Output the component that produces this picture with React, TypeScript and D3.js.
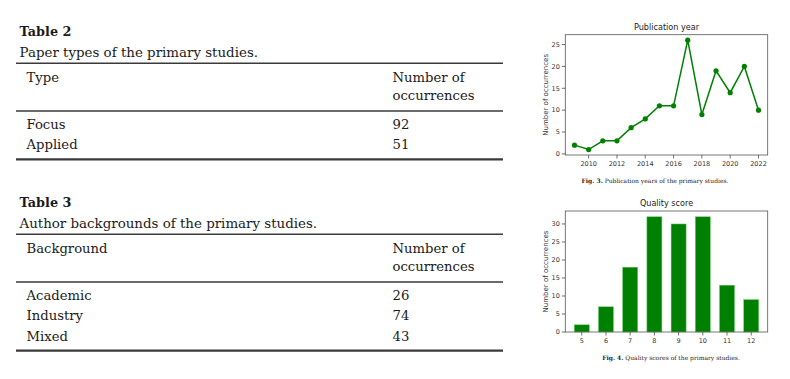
import React from "react";
import * as d3 from "d3";

// ---- Data ----
const years = [2009, 2010, 2011, 2012, 2013, 2014, 2015, 2016, 2017, 2018, 2019, 2020, 2021, 2022];
const yearCounts = [2, 1, 3, 3, 6, 8, 11, 11, 26, 9, 19, 14, 20, 10];
const yearTicks = [2010, 2012, 2014, 2016, 2018, 2020, 2022];
const yearYTicks = [0, 5, 10, 15, 20, 25];

const scores = [5, 6, 7, 8, 9, 10, 11, 12];
const scoreCounts = [2, 7, 18, 32, 30, 32, 13, 9];
const scoreYTicks = [0, 5, 10, 15, 20, 25, 30];

const paperTypes = ["Focus", "Applied"];
const paperTypeCounts = [92, 51];
const backgrounds = ["Academic", "Industry", "Mixed"];
const backgroundCounts = [26, 74, 43];

const GREEN = "#008000";
const SERIF = "'DejaVu Serif', serif";
const SANS = "'DejaVu Sans', sans-serif";

function Table({ top, title, caption, head, rows, counts }: any) {
  const x0 = 16, x1 = 503;
  const rule = "#3a3a3a";
  return (
    <g fontFamily={SERIF} fill="#1a1a1a">
      <text x={19.5} y={top} fontWeight="bold" fontSize={12.8}>{title}</text>
      <text x={19.5} y={top + 20.5} fontSize={13.4}>{caption}</text>
      <line x1={x0} x2={x1} y1={top + 27.3} y2={top + 27.3} stroke={rule} strokeWidth={1.5} />
      <text x={26.5} y={top + 45.6} fontSize={13.2}>{head}</text>
      <text x={392.5} y={top + 45.6} fontSize={13.2}>Number of</text>
      <text x={392.5} y={top + 64.2} fontSize={13.2}>occurrences</text>
      <line x1={x0} x2={x1} y1={top + 75} y2={top + 75} stroke={rule} strokeWidth={1.3} />
      {rows.map((r: string, i: number) => (
        <g key={r}>
          <text x={26.5} y={top + 93.2 + i * 20.2} fontSize={13.2}>{r}</text>
          <text x={392.5} y={top + 93.2 + i * 20.2} fontSize={13.2}>{counts[i]}</text>
        </g>
      ))}
      <line x1={x0} x2={x1} y1={top + 83 + rows.length * 20.2} y2={top + 83 + rows.length * 20.2} stroke={rule} strokeWidth={2.4} />
    </g>
  );
}

function LineChart() {
  const L = 565.3, R = 767.7, T = 34.7, B = 155;
  const x = d3.scaleLinear().domain([2008.35, 2022.65]).range([L, R]);
  const y = d3.scaleLinear().domain([-0.25, 27.25]).range([B, T]);
  const pts = years.map((yr, i) => [x(yr), y(yearCounts[i])] as [number, number]);
  const line = d3.line()(pts) as string;
  return (
    <g fontFamily={SANS}>
      <text x={(L + R) / 2} y={T - 5} textAnchor="middle" fontSize={8.1} fill="#222">Publication year</text>
      {yearYTicks.map((t) => (
        <g key={t}>
          <line x1={L - 3.5} x2={L} y1={y(t)} y2={y(t)} stroke="#333" strokeWidth={0.7} />
          <text x={L - 5.5} y={y(t) + 2.3} textAnchor="end" fontSize={6.5} fill="#333">{t}</text>
        </g>
      ))}
      {yearTicks.map((t) => (
        <g key={t}>
          <line x1={x(t)} x2={x(t)} y1={B} y2={B + 3.5} stroke="#333" strokeWidth={0.7} />
          <text x={x(t)} y={B + 10.8} textAnchor="middle" fontSize={6.5} fill="#333">{t}</text>
        </g>
      ))}
      <text transform={`translate(${547.5},${(T + B) / 2}) rotate(-90)`} textAnchor="middle" fontSize={7} fill="#333">Number of occurrences</text>
      <path d={line} fill="none" stroke={GREEN} strokeWidth={1.5} />
      {pts.map((p, i) => (
        <circle key={i} cx={p[0]} cy={p[1]} r={2.6} fill={GREEN} />
      ))}
      <rect x={L} y={T} width={R - L} height={B - T} fill="none" stroke="#555" strokeWidth={0.8} />
      <text x={655} y={182.5} textAnchor="middle" fontFamily={SERIF} fontSize={6} fill="#222">
        <tspan fontWeight="bold">Fig. 3.</tspan>
        <tspan>{"  Publication years of the primary studies."}</tspan>
      </text>
    </g>
  );
}

function BarChart() {
  const L = 565.3, R = 767.7, T = 211, B = 332;
  const x = d3.scaleLinear().domain([4.32, 12.68]).range([L, R]);
  const y = d3.scaleLinear().domain([0, 33.6]).range([B, T]);
  const bw = 0.62;
  return (
    <g fontFamily={SANS}>
      <text x={(L + R) / 2} y={T - 5} textAnchor="middle" fontSize={8.1} fill="#222">Quality score</text>
      {scores.map((s, i) => (
        <rect key={s} x={x(s - bw / 2)} y={y(scoreCounts[i])} width={x(s + bw / 2) - x(s - bw / 2)} height={B - y(scoreCounts[i])} fill={GREEN} stroke="#6fcf6f" strokeWidth={0.5} />
      ))}
      {scoreYTicks.map((t) => (
        <g key={t}>
          <line x1={L - 3.5} x2={L} y1={y(t)} y2={y(t)} stroke="#333" strokeWidth={0.7} />
          <text x={L - 5.5} y={y(t) + 2.3} textAnchor="end" fontSize={6.5} fill="#333">{t}</text>
        </g>
      ))}
      {scores.map((t) => (
        <g key={t}>
          <line x1={x(t)} x2={x(t)} y1={B} y2={B + 3.5} stroke="#333" strokeWidth={0.7} />
          <text x={x(t)} y={B + 10.8} textAnchor="middle" fontSize={6.5} fill="#333">{t}</text>
        </g>
      ))}
      <text transform={`translate(${547.5},${(T + B) / 2}) rotate(-90)`} textAnchor="middle" fontSize={7} fill="#333">Number of occurrences</text>
      <rect x={L} y={T} width={R - L} height={B - T} fill="none" stroke="#555" strokeWidth={0.8} />
      <text x={671} y={359.5} textAnchor="middle" fontFamily={SERIF} fontSize={6} fill="#222">
        <tspan fontWeight="bold">Fig. 4.</tspan>
        <tspan>{"  Quality scores of the primary studies."}</tspan>
      </text>
    </g>
  );
}

export default function App() {
  return (
    <svg width={790} height={379} style={{ position: "absolute", left: 0, top: 0, background: "#fff" }}>
      <rect x={0} y={0} width={790} height={379} fill="#fff" />
      <Table top={36} title="Table 2" caption="Paper types of the primary studies." head="Type" rows={paperTypes} counts={paperTypeCounts} />
      <Table top={207} title="Table 3" caption="Author backgrounds of the primary studies." head="Background" rows={backgrounds} counts={backgroundCounts} />
      <LineChart />
      <BarChart />
    </svg>
  );
}
